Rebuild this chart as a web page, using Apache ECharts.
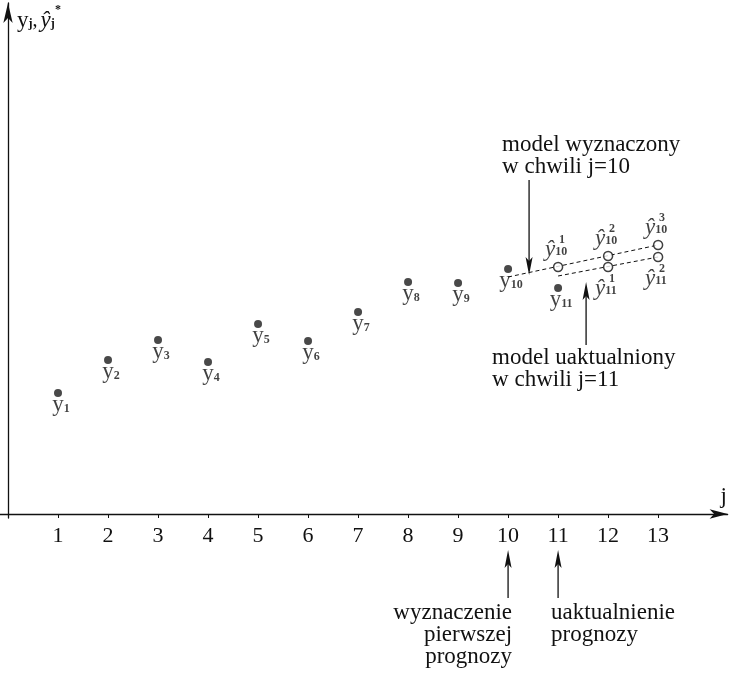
<!DOCTYPE html>
<html>
<head>
<meta charset="utf-8">
<script src="https://cdn.jsdelivr.net/npm/echarts@6.0.0/dist/echarts.min.js"></script>
<style>html,body{margin:0;padding:0;background:#fff;}#c{width:730px;height:673px;}</style>
</head>
<body>
<div id="c"></div>
<script>
// ---- data ----
const xTicks = [1, 2, 3, 4, 5, 6, 7, 8, 9, 10, 11, 12, 13];
const observedJ = [1, 2, 3, 4, 5, 6, 7, 8, 9, 10, 11];
const observed = [12.1, 15.4, 17.4, 15.2, 19.0, 17.3, 20.2, 23.2, 23.1, 24.5, 22.6];
const forecast10J = [11, 12, 13];
const forecast10 = [24.7, 25.8, 26.9];
const forecast11J = [12, 13];
const forecast11 = [24.7, 25.7];
const model10J = [10, 13];
const model10 = [23.7, 26.9];
const model11J = [11, 13];
const model11 = [23.8, 25.7];

const FONT = '"Liberation Serif", "Times New Roman", serif';
const INK = '#111';

const chart = echarts.init(document.getElementById('c'), null, {renderer: 'canvas'});

const pairs = (xs, ys) => xs.map((x, i) => [x, ys[i]]);

const yRich = {
  y: {fontFamily: FONT, fontSize: 23, lineHeight: 20, color: INK},
  s: {fontFamily: FONT, fontSize: 12, fontWeight: 'bold', lineHeight: 6, verticalAlign: 'bottom', color: INK}
};
const hatRich = {
  p: {fontFamily: FONT, fontSize: 12, fontWeight: 'bold', lineHeight: 4, padding: [0, 0, 0, 14], color: INK},
  h: {fontFamily: FONT, fontSize: 23, fontStyle: 'italic', lineHeight: 16, color: INK},
  b: {fontFamily: FONT, fontSize: 12, fontWeight: 'bold', lineHeight: 14, verticalAlign: 'bottom', color: INK}
};

function hatLabel(subscript, dy) {
  return {
    show: true,
    position: 'inside',
    align: 'left',
    verticalAlign: 'middle',
    offset: [-13, dy],
    formatter: p => '{p|' + (p.dataIndex + 1) + '}\n{h|ŷ}{b|' + subscript + '}',
    rich: hatRich
  };
}

const option = {
  animation: false,
  backgroundColor: '#fff',
  grid: {left: 0, right: 1, top: 3, bottom: 155, containLabel: false},
  xAxis: {
    type: 'value', min: -0.16, max: 14.39,
    splitLine: {show: false},
    axisLine: {onZero: true, lineStyle: {color: INK, width: 1.3}, symbol: ['none', 'arrow'], symbolSize: [7, 18]},
    axisTick: {show: true, length: 4, lineStyle: {color: INK}, customValues: xTicks},
    axisLabel: {customValues: xTicks, fontFamily: FONT, fontSize: 22, color: INK, margin: 7},
    name: 'j', nameLocation: 'end', nameGap: -7,
    nameTextStyle: {fontFamily: FONT, fontSize: 23, color: INK, align: 'left', verticalAlign: 'bottom', padding: [0, 0, 6, 0]}
  },
  yAxis: {
    type: 'value', min: -0.4, max: 51.1,
    splitLine: {show: false},
    axisLine: {onZero: true, lineStyle: {color: INK, width: 1.3}, symbol: ['none', 'arrow'], symbolSize: [7, 20]},
    axisTick: {show: false},
    axisLabel: {show: false},
    name: '{p|*}\n{y|y}{s|j}{c|,}{h|ŷ}{b|j}', nameLocation: 'end', nameGap: -16,
    nameTextStyle: {
      align: 'left', verticalAlign: 'middle', padding: [0, 0, 0, 9],
      rich: {
        p: {fontFamily: FONT, fontSize: 12, fontWeight: 'bold', lineHeight: 4, padding: [0, 0, 0, 38], color: INK},
        y: {fontFamily: FONT, fontSize: 23, lineHeight: 18, color: INK},
        s: {fontFamily: FONT, fontSize: 12, fontWeight: 'bold', lineHeight: 8, verticalAlign: 'bottom', color: INK},
        c: {fontFamily: FONT, fontSize: 20, lineHeight: 18, color: INK, padding: [0, 3, 0, 0]},
        h: {fontFamily: FONT, fontSize: 23, fontStyle: 'italic', lineHeight: 18, color: INK},
        b: {fontFamily: FONT, fontSize: 12, fontWeight: 'bold', lineHeight: 12, verticalAlign: 'bottom', color: INK}
      }
    }
  },
  series: [
    {
      type: 'line', data: pairs(model10J, model10), symbol: 'none', silent: true, z: 2,
      lineStyle: {color: INK, width: 1, type: [4, 3]}
    },
    {
      type: 'line', data: pairs(model11J, model11), symbol: 'none', silent: true, z: 2,
      lineStyle: {color: INK, width: 1, type: [4, 3]}
    },
    {
      type: 'scatter', data: pairs(observedJ, observed), symbol: 'circle', symbolSize: 8, z: 3,
      itemStyle: {color: '#1c1c1c'},
      label: {
        show: true, position: 'bottom', distance: -2, offset: [3, 0],
        formatter: p => '{y|y}{s|' + observedJ[p.dataIndex] + '}',
        rich: yRich
      }
    },
    {
      type: 'scatter', data: pairs(forecast10J, forecast10), symbol: 'circle', symbolSize: 9, z: 4,
      itemStyle: {color: '#fff', borderColor: INK, borderWidth: 1.5},
      label: hatLabel(10, -19)
    },
    {
      type: 'scatter', data: pairs(forecast11J, forecast11), symbol: 'circle', symbolSize: 9, z: 4,
      itemStyle: {color: '#fff', borderColor: INK, borderWidth: 1.5},
      label: hatLabel(11, 20)
    }
  ]
};
chart.setOption(option);

// ---- annotations (positions in axis units, converted through the chart's scales) ----
const notes = [
  {text: 'model wyznaczony\nw chwili j=10', x: 9.88, y: 36.9, align: 'left'},
  {text: 'model uaktualniony\nw chwili j=11', x: 9.68, y: 15.6, align: 'left'},
  {text: 'wyznaczenie\npierwszej\nprognozy', x: 10.08, y: -9.9, align: 'right'},
  {text: 'uaktualnienie\nprognozy', x: 10.86, y: -9.9, align: 'left'}
];
const arrows = [
  {x: 10.42, from: 33.4, to: 23.9},
  {x: 11.56, from: 16.9, to: 23.2},
  {x: 10, from: -8.4, to: -3.6},
  {x: 11, from: -8.4, to: -3.6}
];
const P = (x, y) => chart.convertToPixel({seriesIndex: 2}, [x, y]);
const graphics = [];
notes.forEach(n => {
  const p = P(n.x, n.y);
  graphics.push({
    type: 'text', x: p[0], y: p[1] - 11, silent: true,
    style: {text: n.text, fontFamily: FONT, fontSize: 23, lineHeight: 22, fill: INK,
      align: n.align, textAlign: n.align, verticalAlign: 'top', textVerticalAlign: 'top'}
  });
});
arrows.forEach(a => {
  const t = P(a.x, a.from), h = P(a.x, a.to);
  const dir = Math.sign(h[1] - t[1]);
  graphics.push({
    type: 'line', silent: true,
    shape: {x1: t[0], y1: t[1], x2: h[0], y2: h[1] - dir * 12},
    style: {stroke: INK, lineWidth: 1.3}
  });
  graphics.push({
    type: 'polygon', silent: true,
    shape: {points: [[h[0], h[1]], [h[0] - 3.5, h[1] - dir * 18], [h[0], h[1] - dir * 14], [h[0] + 3.5, h[1] - dir * 18]]},
    style: {fill: INK}
  });
});
chart.setOption({graphic: graphics});
</script>
</body>
</html>
